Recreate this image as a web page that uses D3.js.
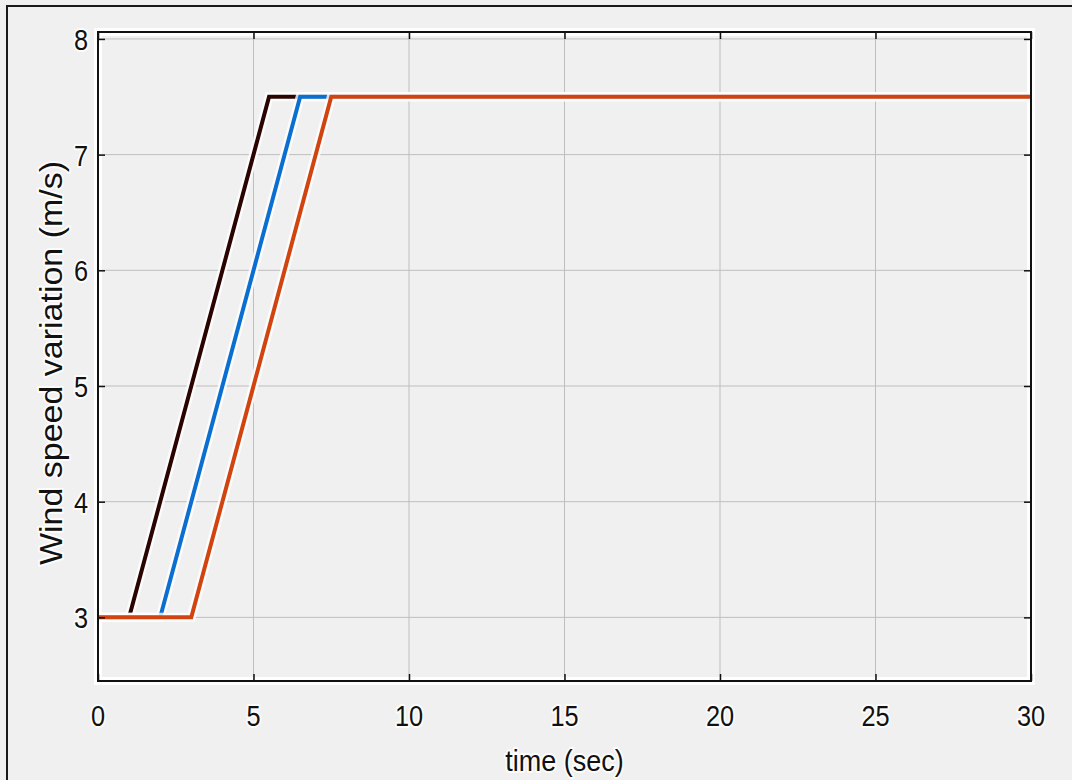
<!DOCTYPE html>
<html>
<head>
    <meta http-equiv="content-type" content="text/html; charset=utf-8" />
    <title>Wind speed variation</title>
    <style>
        body { margin: 0; background: #f0f0f0; }
        svg { display: block; }
        text { font-family: "Liberation Sans", Arial, sans-serif; fill: #111; }
        .grid line { stroke: #bebebe; stroke-width: 1px; }
        .halo { stroke: #ffffff; stroke-opacity: 0.9; fill: none; }
        .lbl { paint-order: stroke; stroke: #ffffff; stroke-width: 4px; stroke-opacity: 0.85; stroke-linejoin: round; }
    </style>
</head>
<body>
<svg width="1072" height="780"></svg>
<script src="https://d3js.org/d3.v7.min.js"></script>
<script>

    // data
    var xTicks = [0, 5, 10, 15, 20, 25, 30];
    var yTicks = [3, 4, 5, 6, 7, 8];
    var seriesColors = ["#2a0400", "#0a6fd0", "#d1440f"];
    var darkTime = [0, 1, 5.5, 30];
    var darkSpeed = [3, 3, 7.5, 7.5];
    var blueTime = [0, 2, 6.5, 30];
    var blueSpeed = [3, 3, 7.5, 7.5];
    var orangeTime = [0, 3, 7.5, 30];
    var orangeSpeed = [3, 3, 7.5, 7.5];

    var svg = d3.select("svg");
    var boxL = 98, boxT = 32, boxR = 1031, boxB = 681;

    var x = d3.scaleLinear().domain([0, 30]).range([boxL, boxR]);
    var y = d3.scaleLinear().domain([2.45, 8.06]).range([boxB, boxT]);

    // outer frame of the figure
    svg.append("rect")
        .attr("x", 7).attr("y", 6)
        .attr("width", 1100).attr("height", 800)
        .attr("fill", "#f0f0f0")
        .attr("stroke", "#1a1a1a").attr("stroke-width", 2);

    // white halo round the axes box
    svg.append("rect")
        .attr("class", "halo")
        .attr("x", boxL).attr("y", boxT)
        .attr("width", boxR - boxL).attr("height", boxB - boxT)
        .attr("stroke-width", 8);

    var grid = svg.append("g").attr("class", "grid");
    grid.selectAll(".gx").data(xTicks).enter().append("line")
        .attr("x1", function(d) { return x(d); })
        .attr("x2", function(d) { return x(d); })
        .attr("y1", boxT).attr("y2", boxB);
    grid.selectAll(".gy").data(yTicks).enter().append("line")
        .attr("y1", function(d) { return y(d); })
        .attr("y2", function(d) { return y(d); })
        .attr("x1", boxL).attr("x2", boxR);

    var series = [
        { t: darkTime, v: darkSpeed },
        { t: blueTime, v: blueSpeed },
        { t: orangeTime, v: orangeSpeed }
    ];

    var line = d3.line()
        .x(function(d) { return x(d[0]); })
        .y(function(d) { return y(d[1]); });

    series.forEach(function(s, i) {
        var pts = d3.zip(s.t, s.v);
        svg.append("path")
            .attr("d", line(pts))
            .attr("fill", "none")
            .attr("stroke", "#ffffff")
            .attr("stroke-opacity", 0.8)
            .attr("stroke-width", 9);
        svg.append("path")
            .attr("d", line(pts))
            .attr("fill", "none")
            .attr("stroke", seriesColors[i])
            .attr("stroke-width", 4)
            .attr("stroke-linejoin", "miter");
    });

    // axes box with inward ticks on all four sides
    var tickLen = 7;
    svg.append("g").attr("transform", "translate(0," + boxB + ")")
        .call(d3.axisTop(x).tickValues(xTicks).tickSize(tickLen).tickFormat(""))
        .call(function(g) { g.select(".domain").remove(); });
    svg.append("g").attr("transform", "translate(0," + boxT + ")")
        .call(d3.axisBottom(x).tickValues(xTicks).tickSize(tickLen).tickFormat(""))
        .call(function(g) { g.select(".domain").remove(); });
    svg.append("g").attr("transform", "translate(" + boxL + ",0)")
        .call(d3.axisRight(y).tickValues(yTicks).tickSize(tickLen).tickFormat(""))
        .call(function(g) { g.select(".domain").remove(); });
    svg.append("g").attr("transform", "translate(" + boxR + ",0)")
        .call(d3.axisLeft(y).tickValues(yTicks).tickSize(tickLen).tickFormat(""))
        .call(function(g) { g.select(".domain").remove(); });
    svg.selectAll(".tick line").attr("stroke", "#111").attr("stroke-width", 1.5);

    svg.append("rect")
        .attr("x", boxL).attr("y", boxT)
        .attr("width", boxR - boxL).attr("height", boxB - boxT)
        .attr("fill", "none")
        .attr("stroke", "#111").attr("stroke-width", 2);

    // tick labels (the original is a little squeezed sideways)
    svg.selectAll(".xl").data(xTicks).enter().append("text")
        .attr("class", "lbl")
        .attr("transform", function(d) { return "translate(" + x(d) + ",726) scale(0.86,1)"; })
        .attr("text-anchor", "middle")
        .style("font-size", "29.5px")
        .text(function(d) { return d; });

    svg.selectAll(".yl").data(yTicks).enter().append("text")
        .attr("class", "lbl")
        .attr("transform", function(d) { return "translate(88," + (y(d) + 11) + ") scale(0.86,1)"; })
        .attr("text-anchor", "end")
        .style("font-size", "29.5px")
        .text(function(d) { return d; });

    // axis titles
    svg.append("text")
        .attr("class", "lbl")
        .attr("transform", "translate(" + (boxL + boxR) / 2 + ",771) scale(0.9,1)")
        .attr("text-anchor", "middle")
        .style("font-size", "30px")
        .text("time (sec)");

    svg.append("text")
        .attr("class", "lbl")
        .attr("transform", "translate(62,363) rotate(-90) scale(1,0.9)")
        .attr("text-anchor", "middle")
        .style("font-size", "34px")
        .text("Wind speed variation (m/s)");

</script>
</body>
</html>
